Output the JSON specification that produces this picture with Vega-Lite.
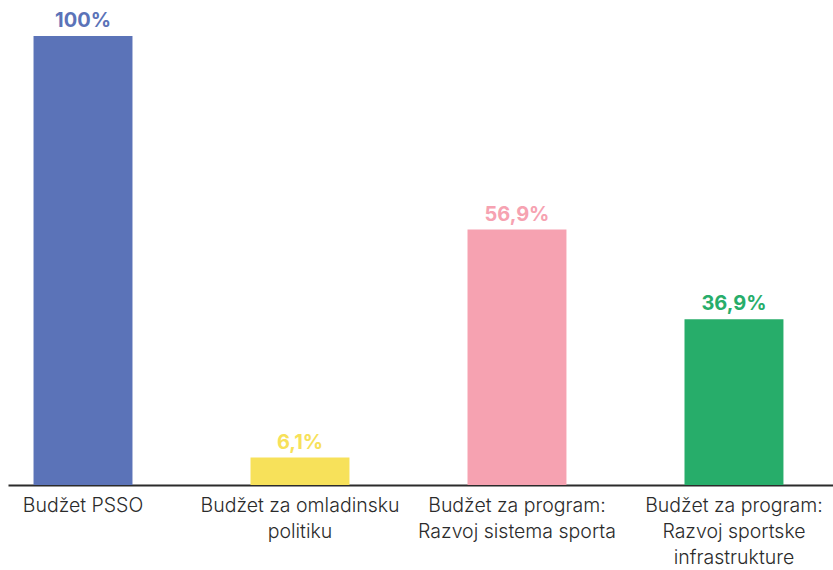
{
  "$schema": "https://vega.github.io/schema/vega-lite/v6.json",
  "width": 825,
  "height": 449,
  "padding": {"left": 8, "top": 36, "right": 0, "bottom": 85},
  "autosize": {"type": "none"},
  "background": "white",
  "config": {"view": {"stroke": null}, "font": "Inter"},
  "data": {
    "values": [
      {"category": "Budžet PSSO", "value": 100, "label": "100%", "color": "#5B73B8"},
      {"category": "Budžet za omladinsku\npolitiku", "value": 6.1, "label": "6,1%", "color": "#F7E15A"},
      {"category": "Budžet za program:\nRazvoj sistema sporta", "value": 56.9, "label": "56,9%", "color": "#F6A2B1"},
      {"category": "Budžet za program:\nRazvoj sportske\ninfrastrukture", "value": 36.9, "label": "36,9%", "color": "#27AD6A"}
    ]
  },
  "encoding": {
    "x": {
      "field": "category",
      "type": "nominal",
      "sort": null,
      "scale": {"paddingInner": 0.544, "paddingOuter": 0.173, "align": 0.34},
      "axis": {
        "title": null,
        "labelAngle": 0,
        "labelFontSize": 19.5,
        "labelColor": "#2b2b2b",
        "labelFont": "Inter",
        "labelFontWeight": 300,
        "labelLineHeight": 26,
        "labelPadding": 11,
        "labelLimit": 400,
        "labelOverlap": false,
        "labelBound": false,
        "labelExpr": "split(datum.label, '\\n')",
        "ticks": false,
        "domainColor": "#2b2b2b",
        "domainWidth": 2
      }
    },
    "y": {
      "field": "value",
      "type": "quantitative",
      "scale": {"domain": [0, 100], "nice": false},
      "axis": null
    },
    "color": {"field": "color", "type": "nominal", "scale": null, "legend": null}
  },
  "layer": [
    {"mark": {"type": "bar"}},
    {
      "mark": {"type": "text", "baseline": "bottom", "dy": -5, "fontSize": 20, "fontWeight": "bold", "font": "Inter"},
      "encoding": {"text": {"field": "label"}}
    }
  ]
}
